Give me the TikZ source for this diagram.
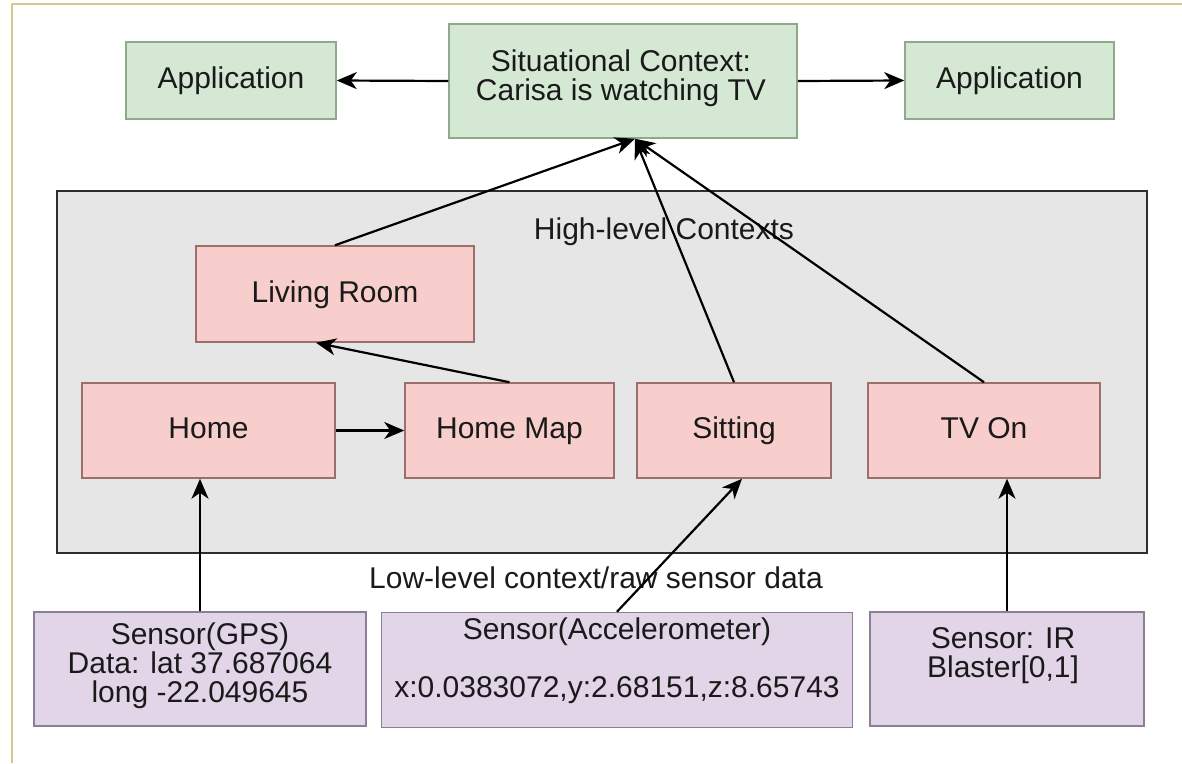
\documentclass[tikz,border=0pt]{standalone}
\usepackage{fontspec}
\setmainfont{Liberation Sans}
\usetikzlibrary{arrows.meta,calc}
\definecolor{gfill}{HTML}{D5E8D4}
\definecolor{gline}{HTML}{8FAA8B}
\definecolor{pfill}{HTML}{F8CECC}
\definecolor{pline}{HTML}{9C6E6E}
\definecolor{vfill}{HTML}{E1D5E7}
\definecolor{vline}{HTML}{8A8096}
\definecolor{cfill}{HTML}{E6E6E6}
\definecolor{cline}{HTML}{2E2E2E}
\definecolor{frame}{HTML}{D8C98E}
\definecolor{ink}{HTML}{1A1A1A}
\tikzset{
  base/.style={draw, line width=1.5pt, inner sep=0pt, text=ink,
    font=\fontsize{30}{29}\selectfont, align=center},
  oneline/.style={text height=22pt, text depth=6pt},
  gbox/.style={base, fill=gfill, draw=gline},
  pbox/.style={base, oneline, fill=pfill, draw=pline},
  vbox/.style={base, fill=vfill, draw=vline},
  cbox/.style={draw=cline, fill=cfill, line width=2.5pt, inner sep=0pt},
  txt/.style={text=ink, font=\fontsize{30}{29}\selectfont, align=center, inner sep=0pt},
  conn/.style={draw=black, line width=2.2pt, -{Stealth[length=20pt,width=17pt,inset=6pt]}}
}
\begin{document}
\begin{tikzpicture}[x=1pt,y=-1pt]
\useasboundingbox (0,0) rectangle (1182,763);
\draw[frame, line width=2pt] (12,763) -- (12,4) -- (1182,4);
% top row
\node[gbox, oneline, minimum width=210pt, minimum height=77pt] (app1) at (231,80.5) {Application};
\node[gbox, minimum width=348pt, minimum height=114pt] (situ) at (623,81) {};
\node[txt] (situt) at (621,78) {Situational Context:\\Carisa is watching TV};
\node[gbox, oneline, minimum width=209pt, minimum height=77pt] (app2) at (1009.5,80.5) {Application};
% container
\node[cbox, minimum width=1090pt, minimum height=362pt] (cont) at (602,372) {};
\node[txt] (hl) at (664,232) {High-level Contexts};
\node[pbox, minimum width=278pt, minimum height=96pt] (lr) at (335,294) {Living Room};
\node[pbox, minimum width=253pt, minimum height=95pt] (home) at (208.5,430.5) {Home};
\node[pbox, minimum width=209pt, minimum height=95pt] (hm) at (509.5,430.5) {Home Map};
\node[pbox, minimum width=194pt, minimum height=95pt] (sit) at (734,430.5) {Sitting};
\node[pbox, minimum width=232pt, minimum height=95pt] (tv) at (984,430.5) {TV On};
% low level
\node[txt] (ll) at (596,578) {Low-level context/raw sensor data};
\node[vbox, minimum width=332pt, minimum height=114pt] (gps) at (200,669) {};
\node[txt] (gpst) at (200,666) {Sensor(GPS)\\Data: lat 37.687064\\long -22.049645};
\node[vbox, minimum width=471pt, minimum height=115pt] (acc) at (617,670) {};
\node[txt] (acct) at (617,661) {Sensor(Accelerometer)\\[29pt]x:0.0383072,y:2.68151,z:8.65743};
\node[vbox, minimum width=274pt, minimum height=114pt] (ir) at (1007,669) {};
\node[txt] (irt) at (1003,656) {Sensor: IR\\Blaster[0,1]};
% connectors
\coordinate (conv) at ($(situ.south)+(12,0)$);
\coordinate (lrin) at ($(lr.south)+(-19,0)$);
\coordinate (sitin) at ($(sit.south)+(8,0)$);
\draw[conn] (situ.west) -- (app1.east);
\draw[conn] (situ.east) -- (app2.west);
\draw[conn] (lr.north) -- (conv);
\draw[conn] (sit.north) -- (conv);
\draw[conn] (tv.north) -- (conv);
\draw[conn] (home.east) -- (hm.west);
\draw[conn] (hm.north) -- (lrin);
\draw[conn] (gps.north) -- (gps.north |- home.south);
\draw[conn] (acc.north) -- (sitin);
\draw[conn] (ir.north) -- (ir.north |- tv.south);
\end{tikzpicture}
\end{document}
